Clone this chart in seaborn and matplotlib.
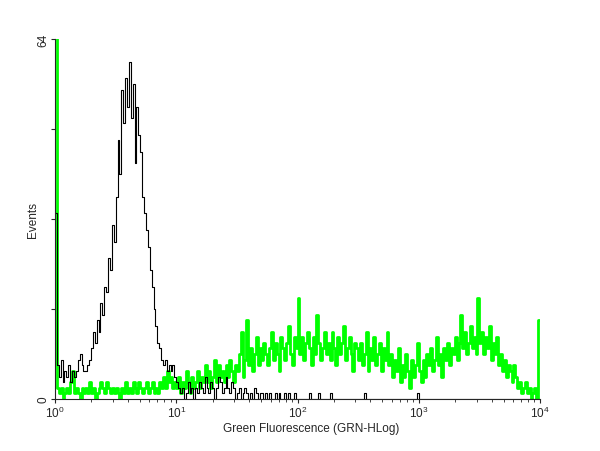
import numpy as np
import pandas as pd
import seaborn as sns
import matplotlib
matplotlib.use("Agg")
import matplotlib.pyplot as plt
from matplotlib.ticker import LogLocator, FixedLocator, FixedFormatter

# 256 log channels over 4 decades (10^0 .. 10^4), counts per channel
n_channels = 256
x_min, x_max = 1, 10000

# unstained control (black)
control_counts = [
    33, 6, 4, 7, 3, 5, 4, 6, 3, 5, 4, 5, 7, 8, 6, 5,
    5, 6, 7, 9, 12, 10, 14, 12, 17, 15, 20, 19, 25, 23, 31, 28,
    36, 46, 40, 55, 49, 57, 52, 60, 50, 56, 42, 52, 47, 44, 36, 33,
    30, 27, 23, 20, 16, 13, 10, 9, 7, 6, 7, 5, 6, 5, 6, 4,
    3, 2, 1, 2, 0, 1, 3, 1, 2, 0, 2, 1, 3, 2, 1, 4,
    2, 1, 3, 2, 0, 2, 4, 3, 1, 2, 4, 2, 1, 3, 2, 0,
    1, 2, 0, 1, 2, 1, 0, 1, 0, 2, 1, 0, 1, 1, 0, 1,
    0, 1, 0, 0, 1, 0, 1, 0, 0, 1, 0, 1, 0, 0, 1, 0,
    0, 0, 0, 0, 0, 0, 1, 0, 0, 0, 0, 1, 0, 0, 0, 0,
    0, 1, 0, 0, 0, 0, 0, 0, 0, 0, 0, 0, 0, 0, 0, 0,
    0, 0, 0, 1, 0, 0, 0, 0, 0, 0, 0, 0, 0, 0, 0, 0,
    0, 0, 0, 0, 0, 0, 0, 0, 0, 0, 0, 0, 0, 0, 0, 1,
    0, 0, 0, 0, 0, 0, 0, 0, 0, 0, 0, 0, 0, 0, 0, 0,
    0, 0, 0, 0, 0, 0, 0, 0, 0, 0, 0, 0, 0, 0, 0, 0,
    0, 0, 0, 0, 0, 0, 0, 0, 0, 0, 0, 0, 0, 0, 0, 0,
    0, 0, 0, 0, 0, 0, 0, 0, 0, 0, 0, 0, 0, 0, 0, 0,
]

# stained sample (green)
stained_counts = [
    70, 2, 1, 2, 0, 1, 2, 1, 3, 5, 1, 2, 1, 0, 2, 1,
    2, 1, 3, 1, 2, 0, 1, 2, 3, 2, 1, 3, 2, 1, 2, 1,
    2, 1, 0, 2, 1, 3, 1, 2, 1, 3, 2, 1, 3, 2, 1, 2,
    3, 1, 2, 3, 1, 2, 1, 3, 2, 4, 2, 5, 3, 4, 2, 3,
    2, 4, 1, 3, 2, 5, 3, 1, 4, 2, 3, 5, 2, 4, 3, 6,
    3, 5, 2, 4, 7, 3, 6, 4, 5, 3, 6, 4, 7, 5, 3, 6,
    5, 8, 12, 4, 7, 14, 6, 9, 5, 8, 11, 6, 9, 7, 10, 8,
    6, 9, 12, 7, 10, 8, 5, 11, 9, 7, 10, 13, 8, 6, 11, 9,
    18, 8, 11, 7, 10, 12, 9, 6, 11, 8, 15, 10, 7, 9, 12, 8,
    10, 7, 12, 9, 6, 11, 8, 10, 13, 7, 9, 11, 8, 5, 10, 9,
    7, 10, 6, 8, 12, 5, 9, 7, 11, 6, 8, 10, 5, 9, 7, 12,
    6, 8, 4, 7, 5, 9, 3, 6, 4, 8, 5, 2, 7, 4, 6, 10,
    5, 3, 7, 4, 8, 6, 9, 5, 7, 11, 6, 8, 4, 9, 7, 10,
    6, 9, 8, 11, 7, 10, 15, 9, 12, 8, 10, 13, 9, 11, 8, 18,
    10, 12, 8, 11, 9, 13, 7, 10, 8, 11, 6, 8, 5, 7, 4, 6,
    5, 3, 6, 4, 2, 3, 1, 2, 3, 1, 2, 0, 1, 2, 0, 14,
]

y_ticks = [0, 16, 32, 48, 64]
y_labels = ["0", "", "", "", "64"]
x_label = "Green Fluorescence (GRN-HLog)"
y_label = "Events"

edges = np.logspace(np.log10(x_min), np.log10(x_max), n_channels + 1)


def stairs_frame(counts):
    # step-post needs the last value repeated at the right edge
    return pd.DataFrame({"x": edges, "y": list(counts) + [counts[-1]]})


sns.set_style("ticks")
plt.rcParams["font.family"] = ["Liberation Sans", "DejaVu Sans"]

fig = plt.figure(figsize=(6, 4.52), dpi=100)
ax = fig.add_axes([55 / 600, 52 / 452, 485 / 600, 360 / 452])

sns.lineplot(data=stairs_frame(stained_counts), x="x", y="y", ax=ax,
             drawstyle="steps-post", color="#00ff00", linewidth=2.0)
sns.lineplot(data=stairs_frame(control_counts), x="x", y="y", ax=ax,
             drawstyle="steps-post", color="black", linewidth=0.8)

ax.set_xscale("log")
ax.set_xlim(x_min, x_max)
ax.set_ylim(0, 64)

ax.xaxis.set_major_locator(LogLocator(base=10, numticks=10))
ax.xaxis.set_minor_locator(LogLocator(base=10, subs=np.arange(2, 10), numticks=10))
ax.yaxis.set_major_locator(FixedLocator(y_ticks))
ax.yaxis.set_major_formatter(FixedFormatter(y_labels))
for lab in ax.get_yticklabels():
    lab.set_rotation(90)
    lab.set_va("center")

ax.tick_params(axis="both", which="major", length=3, width=0.8, labelsize=8.5, pad=1)
ax.tick_params(axis="x", which="minor", length=2, width=0.6)

ax.set_xlabel(x_label, fontsize=8.5)
ax.set_ylabel(y_label, fontsize=8.5)
ax.xaxis.set_label_coords(0.528, -0.063)
ax.yaxis.set_label_coords(-0.032, 0.5)

sns.despine(ax=ax, top=True, right=True)
for s in ["left", "bottom"]:
    ax.spines[s].set_linewidth(0.8)

fig.savefig("out.png", dpi=100)
